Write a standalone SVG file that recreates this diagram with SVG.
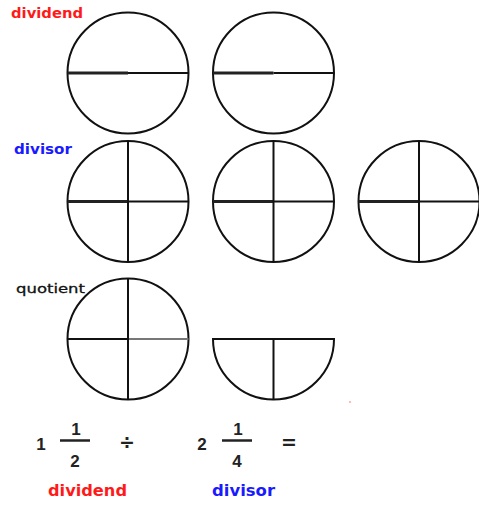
<svg xmlns="http://www.w3.org/2000/svg" width="479" height="508" viewBox="0 0 479 508">
<style>
.c{fill:none;stroke:#111;stroke-width:2}
.l{stroke:#111;stroke-width:2}
.lt{stroke:#222;stroke-width:3}
.lg{stroke:#777;stroke-width:2}
.lab{font-family:"DejaVu Sans",Verdana,sans-serif;font-weight:bold}
.num{font-family:"Liberation Sans",Arial,sans-serif;font-weight:bold;font-size:17px;fill:#222;text-anchor:middle}
.op{font-family:"DejaVu Sans",sans-serif;font-weight:bold;font-size:19px;fill:#222;text-anchor:middle}
</style>
<rect width="479" height="508" fill="#fff"/>
<g id="labels">
<text class="lab" x="11" y="18" font-size="14" fill="#ff1a1a" textLength="72" lengthAdjust="spacingAndGlyphs">dividend</text>
<text class="lab" x="14" y="154" font-size="14" fill="#1a1aff" textLength="58" lengthAdjust="spacingAndGlyphs">divisor</text>
</g>
<g id="dividend1">
<circle class="c" cx="128" cy="73" r="60.5"/>
<line class="lt" x1="67.5" y1="73" x2="128" y2="73"/>
<line class="l" x1="128" y1="73" x2="188.5" y2="73"/>
</g>
<g id="dividend2">
<circle class="c" cx="273.5" cy="73" r="60.5"/>
<line class="lt" x1="213" y1="73" x2="273.5" y2="73"/>
<line class="l" x1="273.5" y1="73" x2="334" y2="73"/>
</g>
<g id="divisor1">
<circle class="c" cx="128" cy="201.5" r="60.5"/>
<line class="lt" x1="67.5" y1="201.5" x2="128" y2="201.5"/>
<line class="l" x1="128" y1="201.5" x2="188.5" y2="201.5"/>
<line class="l" x1="128" y1="141" x2="128" y2="262"/>
</g>
<g id="divisor2">
<circle class="c" cx="273.5" cy="201.5" r="60.5"/>
<line class="lt" x1="213" y1="201.5" x2="273.5" y2="201.5"/>
<line class="l" x1="273.5" y1="201.5" x2="334" y2="201.5"/>
<line class="l" x1="273.5" y1="141" x2="273.5" y2="262"/>
</g>
<g id="divisor3">
<circle class="c" cx="419" cy="201.5" r="60.5"/>
<line class="lt" x1="358.5" y1="201.5" x2="419" y2="201.5"/>
<line class="l" x1="419" y1="201.5" x2="479.5" y2="201.5"/>
<line class="l" x1="419" y1="141" x2="419" y2="262"/>
</g>
<g id="quotient-whole">
<circle class="c" cx="128" cy="339" r="60.5"/>
<line class="l" x1="67.5" y1="339" x2="128" y2="339"/>
<line class="lg" x1="128" y1="339" x2="188.5" y2="339"/>
<line class="l" x1="128" y1="278.5" x2="128" y2="399.5"/>
<text x="16" y="293" font-family="'DejaVu Sans',Verdana,sans-serif" font-size="13" fill="#111" stroke="#111" stroke-width="0.3" textLength="69" lengthAdjust="spacingAndGlyphs">quotient</text>
</g>
<g id="quotient-half">
<path class="c" d="M213,339 A60.5,60.5 0 0 0 334,339 Z"/>
<line class="l" x1="273.5" y1="339" x2="273.5" y2="399.5"/>
</g>
<g id="dot"><circle cx="350" cy="402" r="0.8" fill="#f66"/></g>
<g id="equation">
<text class="num" x="41" y="450">1</text>
<line x1="60" y1="440.5" x2="90" y2="440.5" stroke="#222" stroke-width="2.5"/>
<text class="num" x="76" y="435">1</text>
<text class="num" x="75" y="467">2</text>
<text class="op" x="127" y="449">÷</text>
<text class="num" x="202" y="450">2</text>
<line x1="222" y1="440.5" x2="252" y2="440.5" stroke="#222" stroke-width="2.5"/>
<text class="num" x="238" y="435">1</text>
<text class="num" x="237" y="467">4</text>
<text class="op" x="289" y="449">=</text>
</g>
<g id="bottom-labels">
<text class="lab" x="48" y="496" font-size="16" fill="#ff1a1a" textLength="79" lengthAdjust="spacingAndGlyphs">dividend</text>
<text class="lab" x="212" y="496" font-size="16" fill="#1a1aff" textLength="63" lengthAdjust="spacingAndGlyphs">divisor</text>
</g>
</svg>
